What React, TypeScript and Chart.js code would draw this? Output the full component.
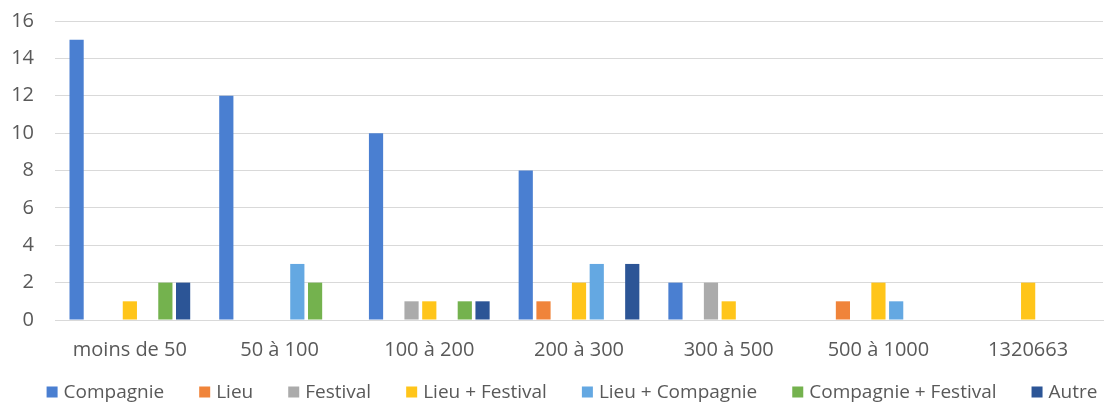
import React, { useEffect, useRef } from "react";
import { Chart, registerables } from "chart.js";

Chart.register(...registerables);

const categories = ["moins de 50", "50 à 100", "100 à 200", "200 à 300", "300 à 500", "500 à 1000", "1320663"];

const compagnie = [15, 12, 10, 8, 2, 0, 0];
const lieu = [0, 0, 0, 1, 0, 1, 0];
const festival = [0, 0, 1, 0, 2, 0, 0];
const lieuFestival = [1, 0, 1, 2, 1, 2, 2];
const lieuCompagnie = [0, 3, 0, 3, 0, 1, 0];
const compagnieFestival = [2, 2, 1, 0, 0, 0, 0];
const autre = [2, 0, 1, 3, 0, 0, 0];

const seriesNames = ["Compagnie", "Lieu", "Festival", "Lieu + Festival", "Lieu + Compagnie", "Compagnie + Festival", "Autre"];
const seriesValues = [compagnie, lieu, festival, lieuFestival, lieuCompagnie, compagnieFestival, autre];
const seriesColors = ["#4A7FD1", "#F0843A", "#ABABAB", "#FFC51A", "#64A8E2", "#74B24E", "#2C5596"];

const yTicks = [0, 2, 4, 6, 8, 10, 12, 14, 16];

const FONT = "'Open Sans', 'Noto Sans', sans-serif";
const TEXT_COLOR = "#595959";

// Bottom legend drawn by hand so the spacing between entries can be wider
// than the vertical room the built-in legend would need.
const bottomLegend = {
  id: "bottomLegend",
  afterDraw(chart: any) {
    const ctx = chart.ctx as CanvasRenderingContext2D;
    const box = 11;
    const boxGap = 6;
    const itemGap = 35;
    const fontSize = 19;
    const centerX = 572;
    const centerY = 392;
    ctx.save();
    ctx.font = `${fontSize}px ${FONT}`;
    ctx.textBaseline = "middle";
    ctx.textAlign = "left";
    const items = chart.data.datasets.map((ds: any) => ({
      label: ds.label as string,
      color: ds.backgroundColor as string,
      width: box + boxGap + ctx.measureText(ds.label).width,
    }));
    const total = items.reduce((s: number, it: any) => s + it.width, 0) + itemGap * (items.length - 1);
    let x = centerX - total / 2;
    for (const it of items) {
      ctx.fillStyle = it.color;
      ctx.fillRect(x, centerY - box / 2, box, box);
      ctx.fillStyle = TEXT_COLOR;
      ctx.fillText(it.label, x + box + boxGap, centerY + 1);
      x += it.width + itemGap;
    }
    ctx.restore();
  },
};

export default function App() {
  const canvasRef = useRef<HTMLCanvasElement | null>(null);

  useEffect(() => {
    document.body.style.margin = "0";
    const canvas = canvasRef.current;
    if (!canvas) return;
    const chart = new Chart(canvas, {
      type: "bar",
      data: {
        labels: categories,
        datasets: seriesNames.map((name, i) => ({
          label: name,
          data: seriesValues[i],
          backgroundColor: seriesColors[i],
          borderWidth: 0,
          categoryPercentage: 0.83,
          barPercentage: 0.8,
        })),
      },
      options: {
        animation: false,
        responsive: false,
        maintainAspectRatio: false,
        layout: { padding: { top: 21, right: 2, left: 10, bottom: 0 } },
        plugins: {
          tooltip: { enabled: false },
          legend: { display: false },
        },
        scales: {
          x: {
            grid: { display: false, drawTicks: false },
            border: { display: true, color: "#D9D9D9", width: 1 },
            ticks: {
              color: TEXT_COLOR,
              font: { family: FONT, size: 20 },
              padding: 18,
              maxRotation: 0,
              minRotation: 0,
              autoSkip: false,
            },
            afterFit: (axis: any) => {
              axis.height = 86;
              axis.paddingLeft = 0;
              axis.paddingRight = 0;
            },
          },
          y: {
            min: 0,
            max: 16,
            afterBuildTicks: (axis: any) => {
              axis.ticks = yTicks.map((v) => ({ value: v }));
            },
            grid: { color: "#D9D9D9", lineWidth: 1, drawTicks: false },
            border: { display: false },
            ticks: {
              color: TEXT_COLOR,
              font: { family: FONT, size: 20 },
              padding: 21,
            },
            afterFit: (axis: any) => {
              axis.width = 45;
              axis.paddingTop = 0;
              axis.paddingBottom = 0;
            },
          },
        },
      },
      plugins: [bottomLegend],
    });
    return () => chart.destroy();
  }, []);

  return (
    <div style={{ position: "fixed", left: 0, top: 0, width: 1105, height: 406, background: "#fff" }}>
      <canvas ref={canvasRef} width={1105} height={406} style={{ width: 1105, height: 406 }} />
    </div>
  );
}
